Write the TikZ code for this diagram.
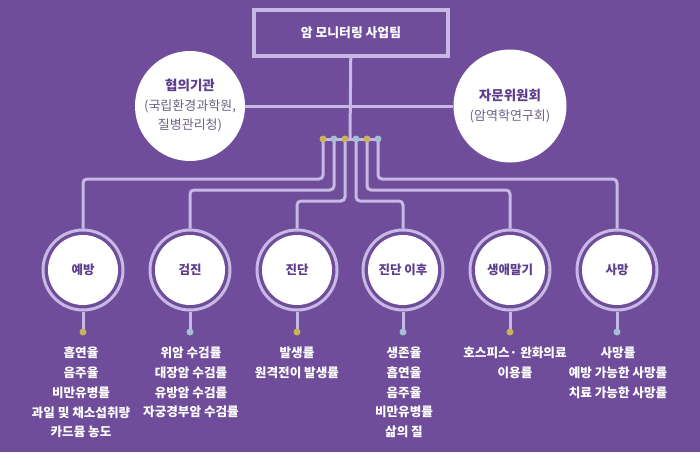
\documentclass[tikz,border=0pt]{standalone}
\usepackage{fontspec}
\setmainfont{Noto Sans CJK KR}
\definecolor{bgpurple}{RGB}{111,77,155}
\definecolor{lav}{RGB}{200,185,228}
\definecolor{gold}{RGB}{201,178,88}
\definecolor{steel}{RGB}{165,192,210}
\definecolor{ink}{RGB}{92,62,140}
\definecolor{greyink}{RGB}{110,98,130}
\tikzset{
  link/.style={lav,line width=3pt,rounded corners=4pt},
  stage/.style={circle,minimum size=80pt,inner sep=0pt,draw=lav,line width=3pt,fill=bgpurple,
    text=ink,font=\bfseries\fontsize{12.5}{14}\selectfont,
    path picture={\fill[white] (path picture bounding box.center) circle[radius=35pt];}},
  partner/.style={circle,fill=white,inner sep=0pt,align=center,text=greyink,
    font=\fontsize{13}{19.5}\selectfont},
  metric/.style={text=white,inner sep=0pt,anchor=north,align=center,
    font=\bfseries\fontsize{12.6}{19.7}\selectfont}
}
\begin{document}
\begin{tikzpicture}[x=1pt,y=-1pt]
\fill[bgpurple] (0,0) rectangle (700,452);
\useasboundingbox (0,0) rectangle (700,452);
\node[draw=lav,line width=3.5pt,minimum width=194pt,minimum height=46pt,text=white,
  font=\bfseries\fontsize{12.8}{15}\selectfont] (team) at (351,33) {암 모니터링 사업팀};
\node[partner,minimum size=110pt] (council) at (190,106)
  {\textcolor{ink}{\bfseries\fontsize{13.5}{19.5}\selectfont 협의기관}\\(국립환경과학원,\\질병관리청)};
\node[partner,minimum size=113pt] (advisory) at (510,106)
  {\textcolor{ink}{\bfseries\fontsize{13.5}{19.5}\selectfont 자문위원회}\\(암역학연구회)};
\draw[link] (council) -- (advisory);
\coordinate (hub) at (350,139);
\draw[link] (team) -- (hub);
\foreach \i/\x/\lbl in {1/83/예방,2/190/검진,3/297/진단,4/403/진단 이후,5/510/생애말기,6/617/사망}{
  \node[stage] (s\i) at (\x,270) {\lbl};
  \coordinate (t\i) at (\x,332);
  \draw[link] (s\i) -- (t\i);
}
\foreach \i/\x/\d in {1/323/40,2/334/51,3/345/62,4/356/62,5/367/51,6/378/40}{
  \coordinate (h\i) at (\x,139);
  \draw[link] (h\i) -- ++(0,\d) -| (s\i);
}
\draw[link] (h1) -- (h6);
\foreach \i/\c in {1/gold,2/steel,3/gold,4/steel,5/gold,6/steel}{
  \fill[\c] (h\i) circle[radius=3.5pt];
  \fill[\c] (t\i) circle[radius=3.5pt];
}
\node[metric] (m1) at (81,347) {흡연율\\음주율\\비만유병률\\과일 및 채소섭취량\\카드뮴 농도};
\node[metric] (m2) at (191,347) {위암 수검률\\대장암 수검률\\유방암 수검률\\자궁경부암 수검률};
\node[metric] (m3) at (297,347) {발생률\\원격전이 발생률};
\node[metric] (m4) at (404,347) {생존율\\흡연율\\음주율\\비만유병률\\삶의 질};
\node[metric] (m5) at (515,347) {호스피스· 완화의료\\이용률};
\node[metric] (m6) at (618,347) {사망률\\예방 가능한 사망률\\치료 가능한 사망률};
\end{tikzpicture}
\end{document}
